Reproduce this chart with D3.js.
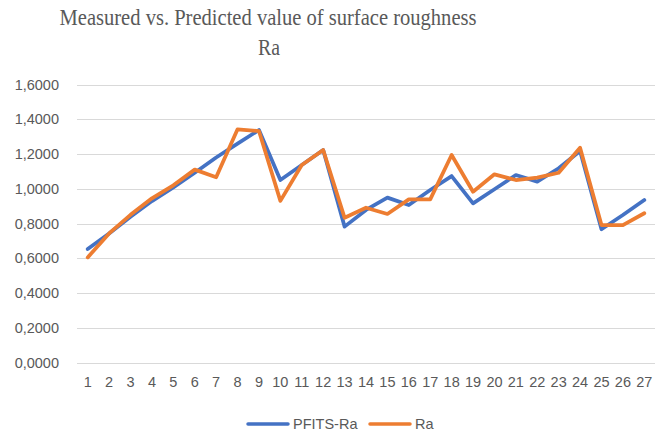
<!DOCTYPE html>
<html>
<head>
<meta charset="utf-8">
<script src="https://cdn.jsdelivr.net/npm/d3@7"></script>
<style>
  body { margin: 0; background: #fff; }
  svg { display: block; }
</style>
</head>
<body>
<div id="chart"></div>
<script>
var categories = d3.range(1, 28).map(String);
var pfitsRa = [0.653, 0.743, 0.839, 0.929, 1.008, 1.092, 1.180, 1.260, 1.338, 1.050,
               1.137, 1.223, 0.782, 0.878, 0.949, 0.906, 0.993, 1.073, 0.916, 0.997,
               1.079, 1.041, 1.118, 1.217, 0.767, 0.849, 0.935];
var ra = [0.605, 0.743, 0.850, 0.945, 1.020, 1.110, 1.066, 1.342, 1.332, 0.930,
          1.137, 1.223, 0.833, 0.891, 0.855, 0.939, 0.939, 1.194, 0.983, 1.083,
          1.050, 1.064, 1.092, 1.236, 0.791, 0.791, 0.859];
var yTicks = [0, 0.2, 0.4, 0.6, 0.8, 1.0, 1.2, 1.4, 1.6];
var seriesNames = ["PFITS-Ra", "Ra"];
var seriesColors = ["#4472C4", "#ED7D31"];

var width = 656, height = 434;
var margin = { left: 77, right: 1, top: 84.5, bottom: 71.5 };
var textColor = "#595959";
var labelFont = "'Liberation Sans', Arial, sans-serif";

var svg = d3.select("#chart").append("svg")
  .attr("width", width)
  .attr("height", height);

var x = d3.scaleBand()
  .domain(categories)
  .range([margin.left, width - margin.right]);

var y = d3.scaleLinear()
  .domain([0, 1.6])
  .range([height - margin.bottom, margin.top]);

// gridlines
svg.append("g")
  .selectAll("line")
  .data(yTicks)
  .enter().append("line")
  .attr("x1", margin.left)
  .attr("x2", width - margin.right)
  .attr("y1", function(d) { return Math.round(y(d)) + 0.5; })
  .attr("y2", function(d) { return Math.round(y(d)) + 0.5; })
  .attr("stroke", "#d9d9d9")
  .attr("stroke-width", 1);

// y axis labels
var fmt = function(d) { return d3.format(".4f")(d).replace(".", ","); };
var yAxis = svg.append("g")
  .attr("transform", "translate(" + (margin.left - 18) + ",0)")
  .call(d3.axisLeft(y).tickValues(yTicks).tickFormat(fmt).tickSize(0).tickPadding(0));
yAxis.select(".domain").remove();
yAxis.selectAll("text")
  .attr("fill", textColor)
  .style("font-family", labelFont)
  .style("font-size", "14.5px");

// x axis labels
var xAxis = svg.append("g")
  .attr("transform", "translate(0," + (height - margin.bottom) + ")")
  .call(d3.axisBottom(x).tickSize(0).tickPadding(14));
xAxis.select(".domain").remove();
xAxis.selectAll("text")
  .attr("fill", textColor)
  .style("font-family", labelFont)
  .style("font-size", "14.5px");

// lines
var line = d3.line()
  .x(function(d, i) { return x(categories[i]) + x.bandwidth() / 2; })
  .y(function(d) { return y(d); });

[pfitsRa, ra].forEach(function(s, i) {
  svg.append("path")
    .datum(s)
    .attr("fill", "none")
    .attr("stroke", seriesColors[i])
    .attr("stroke-width", 3.75)
    .attr("stroke-linejoin", "round")
    .attr("stroke-linecap", "round")
    .attr("d", line);
});

// title
var title = svg.append("text")
  .attr("text-anchor", "middle")
  .attr("fill", textColor)
  .style("font-family", "'Liberation Serif', 'Times New Roman', serif")
  .style("font-size", "24px");
title.append("tspan").attr("x", 268).attr("y", 25)
  .attr("textLength", 417).attr("lengthAdjust", "spacingAndGlyphs")
  .text("Measured vs. Predicted value of surface roughness");
title.append("tspan").attr("x", 269).attr("y", 55)
  .attr("textLength", 22).attr("lengthAdjust", "spacingAndGlyphs")
  .text("Ra");

// legend
var legendX = [248, 370];
var legend = svg.append("g");
seriesNames.forEach(function(name, i) {
  legend.append("line")
    .attr("x1", legendX[i]).attr("x2", legendX[i] + 40)
    .attr("y1", 424).attr("y2", 424)
    .attr("stroke", seriesColors[i])
    .attr("stroke-width", 3.5)
    .attr("stroke-linecap", "round");
  legend.append("text")
    .attr("x", legendX[i] + 45)
    .attr("y", 424)
    .attr("dy", "0.35em")
    .attr("fill", textColor)
    .style("font-family", labelFont)
    .style("font-size", "14.5px")
    .text(name);
});
</script>
</body>
</html>
